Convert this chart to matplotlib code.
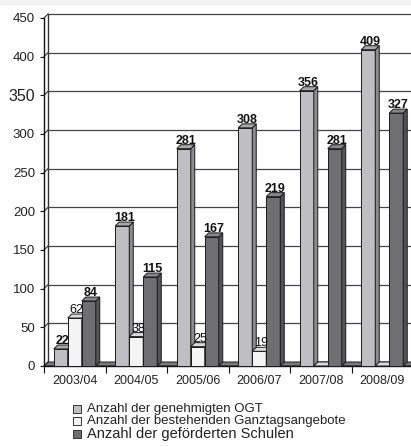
import matplotlib
matplotlib.use("Agg")
import matplotlib.pyplot as plt
from matplotlib.patches import Polygon, Rectangle
import numpy as np

plt.rcParams['font.family'] = ['Liberation Sans', 'DejaVu Sans']

# ---- data ----
years = ['2003/04', '2004/05', '2005/06', '2006/07', '2007/08', '2008/09']
ogt = [22, 181, 281, 308, 356, 409]
ganztag = [62, 38, 25, 19, 0, 0]
schulen = [84, 115, 167, 219, 281, 327]
series_names = ['Anzahl der genehmigten OGT',
                'Anzahl der bestehenden Ganztagsangebote',
                'Anzahl der geförderten Schulen']
y_ticks = [0, 50, 100, 150, 200, 250, 300, 350, 400, 450]

# ---- styles: (front, top, side) face colours per series ----
faces = [('#bfbfc3', '#a8a8ac', '#8c8c90'),
         ('#f4f4f4', '#dadada', '#c2c2c2'),
         ('#6f6f71', '#868688', '#545456')]
label_weight = ['bold', 'normal', 'bold']
edge = '#1a1a1a'

W, H, DPI = 411, 447, 100
fig = plt.figure(figsize=(W / DPI, H / DPI), dpi=DPI)
fig.patch.set_facecolor('white')

# plot box in pixels (measured from the top-left corner)
AX_L, AX_R, AX_T, AX_B = 44, 413, 18, 366
ax = fig.add_axes([AX_L / W, 1 - AX_B / H, (AX_R - AX_L) / W, (AX_B - AX_T) / H])
ax.set_xlim(-0.5, len(years) - 0.5)
ax.set_ylim(0, 450)
ax.set_facecolor('none')

ux = len(years) / (AX_R - AX_L)   # data units per pixel (x)
uy = 450 / (AX_B - AX_T)          # data units per pixel (y)
DX, DY = 4 * ux, 4 * uy           # depth of the 3D effect
BW = 14 * ux                      # bar width

x0, x1 = -0.5, len(years) - 0.5

# back wall edge, gridlines and their connectors to the axis ticks
ax.plot([x0 + DX, x0 + DX], [DY, 450 + DY], color='#333333', lw=1.0,
        zorder=1, clip_on=False)
for v in y_ticks[1:]:
    ax.plot([x0 + DX, x1 + DX], [v + DY, v + DY], color='#444444', lw=0.9,
            zorder=1, clip_on=False)
for v in y_ticks:
    ax.plot([x0, x0 + DX], [v, v + DY], color='#333333', lw=0.8,
            zorder=1, clip_on=False)

# floor
ax.add_patch(Polygon([(x0, 0), (x1, 0), (x1 + DX, DY), (x0 + DX, DY)],
                     closed=True, facecolor='#7a7a7a', edgecolor=edge,
                     lw=0.7, zorder=2, clip_on=False))

series = [ogt, ganztag, schulen]
centers = np.arange(len(years))
z = 3.0
for g in range(len(years)):
    for k, vals in enumerate(series):
        h = vals[g]
        left = centers[g] + (k - 1.5) * BW
        front, top, side = faces[k]
        ax.bar(left, h, width=BW, align='edge', color=front, edgecolor=edge,
               lw=0.7, zorder=z, clip_on=False)
        ax.add_patch(Polygon([(left + BW, 0), (left + BW + DX, DY),
                              (left + BW + DX, h + DY), (left + BW, h)],
                             closed=True, facecolor=side, edgecolor=edge,
                             lw=0.7, zorder=z, clip_on=False))
        ax.add_patch(Polygon([(left, h), (left + BW, h),
                              (left + BW + DX, h + DY), (left + DX, h + DY)],
                             closed=True, facecolor=top, edgecolor=edge,
                             lw=0.7, zorder=z, clip_on=False))
        z += 0.01
        if h > 0:
            ax.text(left + BW / 2 + DX / 2, h + DY + 1.0 * uy, str(h),
                    ha='center', va='baseline', fontsize=9,
                    fontweight=label_weight[k], color='#111111', zorder=20)

# axes, ticks and labels
for s in ['top', 'right']:
    ax.spines[s].set_visible(False)
for s in ['left', 'bottom']:
    ax.spines[s].set_color('#111111')
    ax.spines[s].set_linewidth(1.0)
    ax.spines[s].set_zorder(2.5)

ax.set_yticks(y_ticks)
ax.set_yticklabels([str(v) for v in y_ticks])
ax.tick_params(axis='y', direction='out', length=3, width=0.8,
               labelsize=9.5, pad=3.5, colors='#111111', labelcolor='#222222')
for t in ax.get_yticklabels():
    if t.get_text() == '350':
        t.set_fontsize(11.5)

ax.set_xticks(np.arange(-0.5, len(years), 1.0))
ax.set_xticklabels([])
ax.set_xticks(centers, minor=True)
ax.set_xticklabels(years, minor=True)
ax.tick_params(axis='x', which='major', direction='out', length=5, width=0.8,
               colors='#111111')
ax.tick_params(axis='x', which='minor', length=0, labelsize=9, pad=6.5,
               labelcolor='#222222')

# light band along the top edge
fig.patches.append(Rectangle((0, 1 - 5 / H), 1, 5 / H, transform=fig.transFigure,
                             facecolor='#f2f2f2', edgecolor='none', zorder=0))

# legend
row_y = [409, 421, 434]
row_size = [9.5, 9.5, 10.5]
for k, name in enumerate(series_names):
    yc = row_y[k]
    fig.patches.append(Rectangle((72.5 / W, 1 - (yc + 4) / H), 8 / W, 8 / H,
                                 transform=fig.transFigure,
                                 facecolor=faces[k][0], edgecolor='#333333',
                                 lw=0.7))
    fig.text(86.5 / W, 1 - yc / H, name, ha='left', va='center',
             fontsize=row_size[k], color='#222222')

fig.savefig('out.png', dpi=DPI)
